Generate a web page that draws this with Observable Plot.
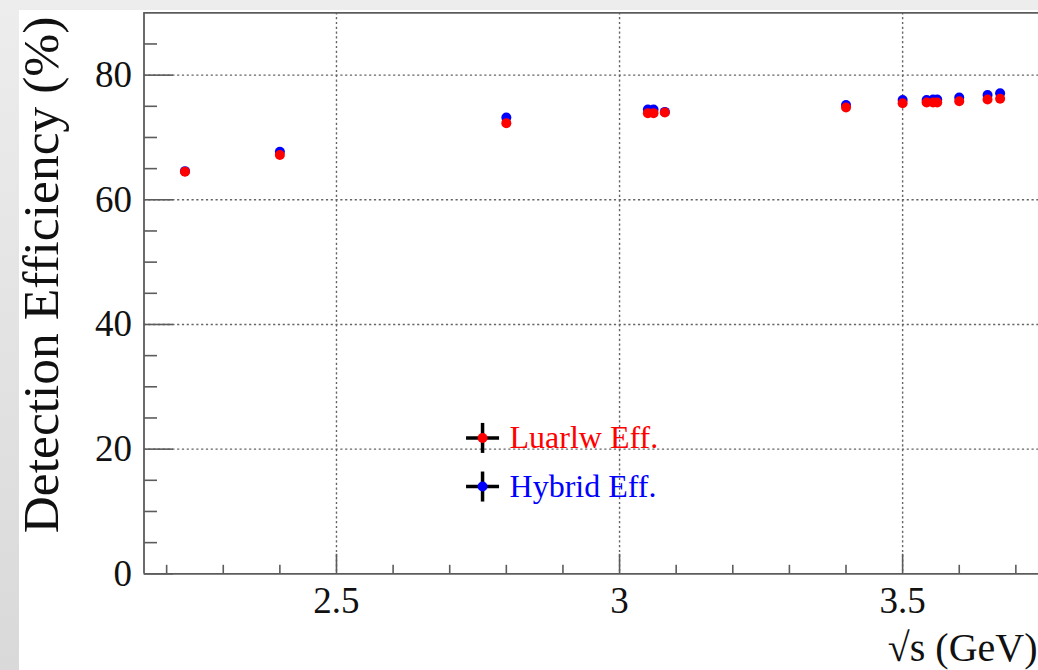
<!DOCTYPE html>
<html><head><meta charset="utf-8">
<script src="https://cdn.jsdelivr.net/npm/d3@7"></script>
<script src="https://cdn.jsdelivr.net/npm/@observablehq/plot@0.6"></script>
<style>
html,body{margin:0;padding:0;width:1038px;height:670px;overflow:hidden;}
body{background:linear-gradient(to bottom,#ededed,#d9d9d9);position:relative;}
#chart{position:absolute;left:19px;top:10px;width:1019px;height:660px;background:#fff;}
</style></head><body><div id="chart"></div>
<script>
// ---- data ----
const energies   = [2.2324, 2.4, 2.8, 3.05, 3.06, 3.08, 3.4, 3.5, 3.5424, 3.5538, 3.5611, 3.6, 3.65, 3.6722];
const luarlwEff  = [64.5, 67.2, 72.3, 73.9, 73.9, 74.0, 74.8, 75.5, 75.6, 75.6, 75.6, 75.8, 76.1, 76.2];
const hybridEff  = [64.6, 67.7, 73.2, 74.5, 74.5, 74.1, 75.2, 76.0, 76.0, 76.1, 76.1, 76.4, 76.8, 77.1];
const seriesNames  = ["Luarlw Eff.", "Hybrid Eff."];
const seriesColors = ["#ff0000", "#0000ff"];
const xDomain = [2.16, 3.74];
const yDomain = [0, 90];
const xMajorTicks = [2.5, 3, 3.5];
const xMinorTicks = [2.2, 2.3, 2.4, 2.6, 2.7, 2.8, 2.9, 3.1, 3.2, 3.3, 3.4, 3.6, 3.7];
const yMajorTicks = [0, 20, 40, 60, 80];
const yMinorTicks = [5, 10, 15, 25, 30, 35, 45, 50, 55, 65, 70, 75, 85];
const xTitle = "\u221As (GeV)";
const yTitle = "Detection Efficiency (%)";
const legendX = 2.758;
const legendY = [21.8, 14.0];

// ---- tables ----
const rows = energies.map((e, i) => ({e, luarlw: luarlwEff[i], hybrid: hybridEff[i]}));
const legend = seriesNames.map((name, i) => ({name, color: seriesColors[i], y: legendY[i]}));

const lineShape = {draw(context, l) { context.moveTo(0, 0); context.lineTo(0, -l); }};
const axisColor = "#5c5c5c";
const font = '"Liberation Serif","Times New Roman",serif';

const chart = Plot.plot({
  width: 1019,
  height: 660,
  marginLeft: 124.5,
  marginRight: 0,
  marginTop: 2.3,
  marginBottom: 96.7,
  style: {fontFamily: font, background: "white", overflow: "visible", color: "#111"},
  x: {domain: xDomain},
  y: {domain: yDomain},
  color: {type: "identity"},
  marks: [
    // grid
    Plot.ruleX(xMajorTicks, {stroke: "#666", strokeWidth: 1.4, strokeDasharray: "2.2,2.6"}),
    Plot.ruleY(yMajorTicks.filter(d => d > 0), {stroke: "#666", strokeWidth: 1.4, strokeDasharray: "2.2,2.6"}),
    // axis ticks
    Plot.vector(xMajorTicks, {x: d => d, frameAnchor: "bottom", rotate: 0, length: 20, anchor: "start", shape: lineShape, stroke: axisColor, strokeWidth: 1.6, strokeLinecap: "butt"}),
    Plot.vector(xMinorTicks, {x: d => d, frameAnchor: "bottom", rotate: 0, length: 9, anchor: "start", shape: lineShape, stroke: axisColor, strokeWidth: 1.6, strokeLinecap: "butt"}),
    Plot.vector(yMajorTicks, {y: d => d, frameAnchor: "left", rotate: 90, length: 29, anchor: "start", shape: lineShape, stroke: axisColor, strokeWidth: 1.6, strokeLinecap: "butt"}),
    Plot.vector(yMinorTicks, {y: d => d, frameAnchor: "left", rotate: 90, length: 13, anchor: "start", shape: lineShape, stroke: axisColor, strokeWidth: 1.6, strokeLinecap: "butt"}),
    // frame lines
    Plot.ruleX([xDomain[0]], {stroke: axisColor, strokeWidth: 1.8}),
    Plot.ruleY(yDomain, {stroke: axisColor, strokeWidth: 1.8}),
    // tick labels
    Plot.axisY(yMajorTicks, {anchor: "left", tickSize: 0, tickPadding: 12, fontSize: 37, label: null, fill: "#111"}),
    Plot.axisX(xMajorTicks, {anchor: "bottom", tickSize: 0, tickPadding: 13, fontSize: 37, label: null, fill: "#111", tickFormat: d => String(d)}),
    // titles
    Plot.text([yTitle], {frameAnchor: "left", rotate: -90, textAnchor: "middle", lineAnchor: "middle", dx: -102, dy: -18.3, fontSize: 51.5, fill: "#111"}),
    Plot.text([xTitle], {frameAnchor: "bottom-right", textAnchor: "end", lineAnchor: "middle", dx: -1, dy: 74.6, fontSize: 40, fill: "#111"}),
    // data
    Plot.dot(rows, {x: "e", y: "hybrid", r: 5, fill: seriesColors[1], stroke: "none"}),
    Plot.dot(rows, {x: "e", y: "luarlw", r: 5, fill: seriesColors[0], stroke: "none"}),
    // legend
    Plot.vector(legend, {x: () => legendX, y: "y", rotate: 0, length: 30, anchor: "middle", shape: lineShape, stroke: "#000", strokeWidth: 3.5, strokeLinecap: "butt"}),
    Plot.vector(legend, {x: () => legendX, y: "y", rotate: 90, length: 33, anchor: "middle", shape: lineShape, stroke: "#000", strokeWidth: 3.5, strokeLinecap: "butt"}),
    Plot.dot(legend, {x: () => legendX, y: "y", r: 5, fill: "color", stroke: "none"}),
    Plot.text(legend, {x: () => legendX, y: "y", text: "name", fill: "color", dx: 27, textAnchor: "start", lineAnchor: "middle", fontSize: 32})
  ]
});
document.getElementById("chart").appendChild(chart);
</script>
</body></html>
